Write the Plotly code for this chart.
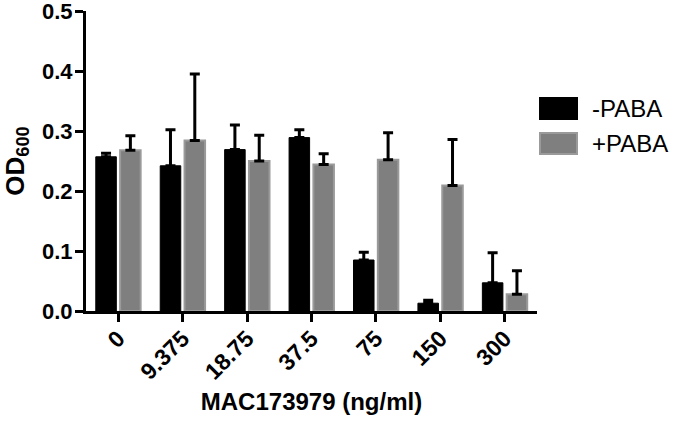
import plotly.graph_objects as go

categories = ["0", "9.375", "18.75", "37.5", "75", "150", "300"]
minus_paba = [0.257, 0.242, 0.269, 0.289, 0.085, 0.013, 0.047]
minus_paba_err = [0.006, 0.060, 0.041, 0.013, 0.013, 0.005, 0.050]
plus_paba = [0.268, 0.284, 0.250, 0.244, 0.252, 0.209, 0.028]
plus_paba_err = [0.024, 0.111, 0.043, 0.018, 0.045, 0.077, 0.039]
y_ticks = [0.0, 0.1, 0.2, 0.3, 0.4, 0.5]
series_names = ["-PABA", "+PABA"]

FONT = "Arial, Liberation Sans, sans-serif"
zeros = [0] * len(categories)

fig = go.Figure()
fig.add_trace(go.Bar(
    x=categories, y=minus_paba, name=series_names[0],
    marker=dict(color="#000000", line=dict(color="#000000", width=1)),
    error_y=dict(type="data", symmetric=False, array=minus_paba_err, arrayminus=zeros,
                 color="#000000", thickness=3, width=5),
))
fig.add_trace(go.Bar(
    x=categories, y=plus_paba, name=series_names[1],
    marker=dict(color="#7f7f7f", line=dict(color="#9a9a9a", width=2)),
    error_y=dict(type="data", symmetric=False, array=plus_paba_err, arrayminus=zeros,
                 color="#000000", thickness=3, width=5),
))

# legend drawn manually (larger swatches like the original)
legend_items = [
    (series_names[0], "#000000", "#000000", 0.64, 0.71),
    (series_names[1], "#7f7f7f", "#9a9a9a", 0.523, 0.593),
]
for name, fill, border, y0, y1 in legend_items:
    fig.add_shape(type="rect", xref="paper", yref="paper", x0=1.0067, x1=1.0887,
                  y0=y0, y1=y1, fillcolor=fill, line=dict(color=border, width=2))
    fig.add_annotation(text=name, xref="paper", yref="paper", x=1.118, y=(y0 + y1) / 2,
                       xanchor="left", yanchor="middle", showarrow=False,
                       font=dict(family=FONT, size=24, color="#000000"))

fig.update_layout(
    width=675, height=421, autosize=False,
    margin=dict(l=86, r=138, t=11, b=110),
    plot_bgcolor="white", paper_bgcolor="white",
    barmode="group", bargap=0.245, bargroupgap=0.156,
    showlegend=False,
    font=dict(family=FONT, color="#000000"),
)
fig.update_xaxes(
    range=[-0.5, 6.5], showline=True, linewidth=3, linecolor="#000000",
    ticks="outside", ticklen=8, tickwidth=3, tickcolor="#000000",
    tickangle=-45, tickfont=dict(family=FONT, size=23, weight="bold"),
    ticklabelstandoff=-6,
    showgrid=False, zeroline=False, ticklabeloverflow="allow", automargin=False,
    title=dict(text="<b>MAC173979 (ng/ml)</b>", font=dict(family=FONT, size=24), standoff=10),
)
fig.update_yaxes(
    range=[0, 0.5], showline=True, linewidth=3, linecolor="#000000",
    ticks="outside", ticklen=8, tickwidth=3, tickcolor="#000000",
    tickvals=y_ticks, tickformat=".1f", ticklabeloverflow="allow", automargin=False,
    tickfont=dict(family=FONT, size=22, weight="bold"),
    ticklabelstandoff=-2,
    showgrid=False, zeroline=False,
    title=dict(text="<b>OD<sub>600</sub></b>", font=dict(family=FONT, size=26), standoff=14),
)

fig.write_html("out.html", config={"displayModeBar": False},
               post_script="document.body.style.margin='0';")
